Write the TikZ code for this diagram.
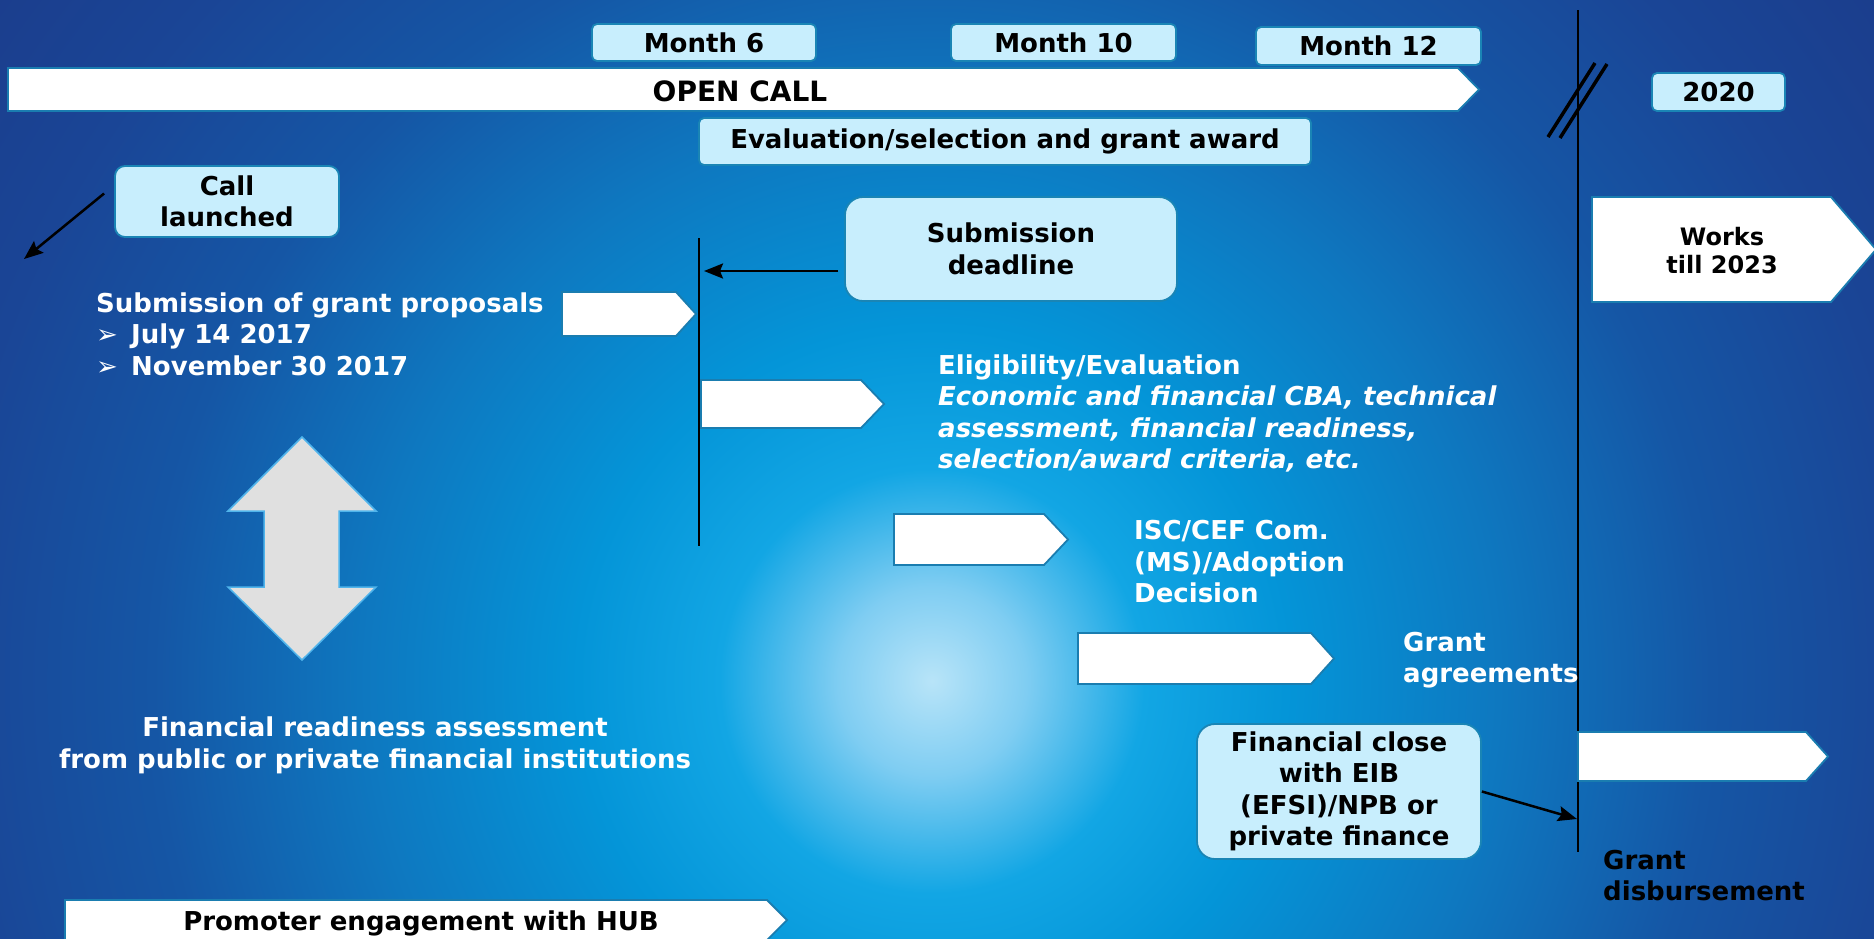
\documentclass[tikz,border=0pt]{standalone}
\usepackage{fontspec}
\setmainfont{DejaVu Sans}[BoldFont={DejaVu Sans Bold},ItalicFont={DejaVu Sans Oblique},BoldItalicFont={DejaVu Sans Bold Oblique}]
\newfontfamily\symfont{DejaVu Sans}
\usetikzlibrary{arrows.meta}

\definecolor{glowc}{RGB}{184,228,248}
\definecolor{paleglow}{RGB}{127,205,242}
\definecolor{cyanc}{RGB}{18,166,228}
\definecolor{deepcyan}{RGB}{4,149,216}
\definecolor{midc}{RGB}{14,120,192}
\definecolor{navyc}{RGB}{21,86,165}
\definecolor{darkc}{RGB}{26,69,150}
\definecolor{cornerc}{RGB}{27,61,140}
\definecolor{boxfill}{RGB}{200,238,253}
\definecolor{boxedge}{RGB}{26,133,181}
\definecolor{flagedge}{RGB}{26,125,176}
\definecolor{arrowgrey}{RGB}{224,224,224}
\definecolor{arrowedge}{RGB}{80,180,235}

\pgfdeclareradialshading{glow}{\pgfpoint{0bp}{0bp}}{color(0bp)=(glowc); color(2bp)=(paleglow); color(4.5bp)=(cyanc); color(7.5bp)=(deepcyan); color(12bp)=(midc); color(16.5bp)=(navyc); color(21bp)=(darkc); color(25bp)=(cornerc); color(50bp)=(cornerc)}

\begin{document}
\begin{tikzpicture}[x=1pt,y=-1pt,
  every node/.style={font=\bfseries\fontsize{26}{31.5}\selectfont, inner sep=0pt},
  tag/.style={draw=boxedge, line width=1.8pt, fill=boxfill, rounded corners=5pt, text=black, align=center},
  flag/.style={draw=flagedge, line width=1.8pt, fill=white},
  wtext/.style={text=white, align=left},
  >={Stealth[length=19pt,width=15pt,inset=3pt]}]
\useasboundingbox (0,0) rectangle (1874,938);
\begin{scope}
\clip (0,0) rectangle (1874,938);
\shade[shading=glow] (932,681) circle (1180pt);
\end{scope}

% time lines
\coordinate (rtop) at (1578,10);
\coordinate (rbot) at (1578,852);
\coordinate (mtop) at (699,238);
\coordinate (mbot) at (699,546);
\draw[line width=2pt] (rtop) -- (rbot);
\draw[line width=2pt] (mtop) -- (mbot);
\draw[line width=3.5pt] (1548,137) -- (1595,63);
\draw[line width=3.5pt] (1560,138) -- (1607,64);

% white arrows
\draw[flag] (8,68) -- (1458,68) -- (1479,89.5) -- (1458,111) -- (8,111) -- cycle;
\draw[flag] (562,292) -- (676,292) -- (696,314) -- (676,336) -- (562,336) -- cycle;
\draw[flag] (701,380) -- (861,380) -- (884,404) -- (861,428) -- (701,428) -- cycle;
\draw[flag] (894,514) -- (1044,514) -- (1068,539.5) -- (1044,565) -- (894,565) -- cycle;
\draw[flag] (1078,633) -- (1311,633) -- (1334,658.5) -- (1311,684) -- (1078,684) -- cycle;
\draw[flag] (1578,732) -- (1806,732) -- (1828,756.5) -- (1806,781) -- (1578,781) -- cycle;
\draw[flag] (1592,197) -- (1831,197) -- (1876,249.5) -- (1831,302) -- (1592,302) -- cycle;
\draw[flag] (65,900) -- (767,900) -- (787,920) -- (767,940) -- (65,940) -- cycle;
\draw[draw=arrowedge, line width=1.5pt, fill=arrowgrey] (302,437) -- (376,511) -- (339,511) -- (339,587) -- (376,587) -- (302,660) -- (228,587) -- (264,587) -- (264,511) -- (228,511) -- cycle;

\node[font=\bfseries\fontsize{28}{30}\selectfont, anchor=base] (open) at (740,101.5) {OPEN CALL};
\node[font=\bfseries\fontsize{24}{28}\selectfont, align=center, anchor=base] (works) at (1722,273) {Works\\till 2023};
\node[anchor=base] (promoter) at (421,930) {Promoter engagement with HUB};

% boxes
\node[tag, minimum width=224pt, minimum height=37pt] (m6) at (704,42.5) {Month 6};
\node[tag, minimum width=225pt, minimum height=37pt] (m10) at (1063.5,42.5) {Month 10};
\node[tag, minimum width=225pt, minimum height=38pt] (m12) at (1368.5,46) {Month 12};
\node[tag, minimum width=133pt, minimum height=38pt] (y2020) at (1718.5,92) {2020};
\node[tag, minimum width=612pt, minimum height=47pt] (eval) at (1005,141.5) {Evaluation/selection and grant award};
\node[tag, rounded corners=10pt, minimum width=224pt, minimum height=71pt] (call) at (227,201.5) {Call\\launched};
\node[tag, rounded corners=18pt, minimum width=332pt, minimum height=104pt] (deadline) at (1011,249) {Submission\\deadline};
\node[tag, rounded corners=18pt, minimum width=284pt, minimum height=135pt] (close) at (1339,791.5) {Financial close\\with EIB\\(EFSI)/NPB or\\private finance};

% free texts (base = last line)
\node[wtext, anchor=base west] (proposals) at (96,375) {Submission of grant proposals\\\makebox[35pt][l]{\symfont\fontsize{26}{26}\selectfont ➢}July 14 2017\\\makebox[35pt][l]{\symfont\fontsize{26}{26}\selectfont ➢}November 30 2017};
\node[wtext, anchor=base west] (elig) at (938,468.5) {Eligibility/Evaluation\\\textit{Economic and financial CBA, technical}\\\textit{assessment, financial readiness,}\\\textit{selection/award criteria, etc.}};
\node[wtext, anchor=base west] (isc) at (1134,602.5) {ISC/CEF Com.\\(MS)/Adoption\\Decision};
\node[wtext, anchor=base west] (agree) at (1403,682.5) {Grant\\agreements};
\node[align=left, anchor=base west] (disburse) at (1603,900.5) {Grant\\disbursement};
\node[wtext, align=center, anchor=base] (finready) at (375,768) {Financial readiness assessment\\from public or private financial institutions};

% connectors
\coordinate (callend) at (24,259);
\coordinate (sdhit) at (704,271);
\coordinate (closehit) at (1577,819);
\draw[->, line width=2.5pt] ([xshift=-10pt,yshift=8pt]call.west) -- (callend);
\draw[->, line width=2.5pt] ([xshift=-6pt]deadline.west |- sdhit) -- (sdhit);
\draw[->, line width=2.5pt] (close.east) -- (closehit);
\end{tikzpicture}
\end{document}
